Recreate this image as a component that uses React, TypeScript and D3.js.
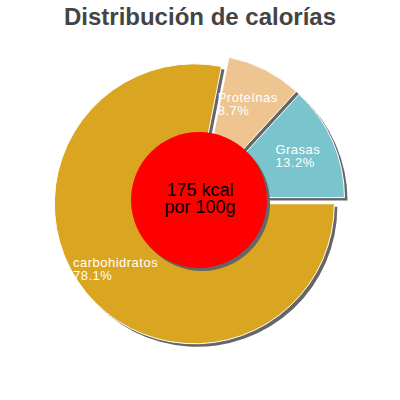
import React, { useEffect, useRef } from 'react';
import * as d3 from 'd3';

const categories = ['carbohidratos', 'Proteínas', 'Grasas'];
const percents = [78.1, 8.7, 13.2];
const sliceColors = ['#DAA520', '#EEC591', '#7AC5CD'];
const centerLines = ['175 kcal', 'por 100g'];
const title = 'Distribución de calorías';

const FONT = '"Liberation Sans", Arial, Helvetica, sans-serif';

export default function App() {
  const svgRef = useRef<SVGSVGElement>(null);

  useEffect(() => {
    if (!svgRef.current) return;
    const W = 400;
    const svg = d3.select(svgRef.current);
    svg.selectAll('*').remove();

    const cx = 199, cy = 200;
    const R = 140;
    const offset = 6;
    const labelR = 102;
    const innerCircleR = 68;

    // title
    svg.append('text')
      .attr('x', W / 2)
      .attr('y', 25)
      .attr('text-anchor', 'middle')
      .attr('font-family', FONT)
      .attr('font-weight', 'bold')
      .attr('font-size', '24px')
      .attr('fill', '#444444')
      .text(title);

    const pie = d3.pie<number>()
      .sort(null)
      .value(d => d)
      .startAngle(Math.PI / 2)
      .endAngle(Math.PI / 2 + 2 * Math.PI);
    const arcs = pie(percents);
    const arc = d3.arc<d3.PieArcDatum<number>>().innerRadius(0).outerRadius(R);

    // sliced-out position of each slice along its bisector
    const shift = (a: d3.PieArcDatum<number>, dist: number) => {
      const mid = (a.startAngle + a.endAngle) / 2;
      return [cx + Math.sin(mid) * dist, cy - Math.cos(mid) * dist];
    };

    const g = svg.append('g');

    // shadows first
    arcs.forEach(a => {
      const [x, y] = shift(a, offset);
      g.append('path')
        .attr('d', arc(a)!)
        .attr('transform', `translate(${x + 3},${y + 3})`)
        .attr('fill', '#666666');
    });

    arcs.forEach((a, i) => {
      const [x, y] = shift(a, offset);
      g.append('path')
        .attr('d', arc(a)!)
        .attr('transform', `translate(${x},${y})`)
        .attr('fill', sliceColors[i])
        .attr('stroke', '#ffffff')
        .attr('stroke-width', 1)
        .attr('stroke-linejoin', 'round');
    });

    // labels: left aligned block centred on a point inside the slice
    arcs.forEach((a, i) => {
      const [ox, oy] = shift(a, offset);
      const mid = (a.startAngle + a.endAngle) / 2;
      const px = ox + Math.sin(mid) * labelR;
      const py = oy - Math.cos(mid) * labelR;
      const lg = g.append('g');
      const t = lg.append('text')
        .attr('font-family', FONT)
        .attr('font-size', '13px')
        .attr('letter-spacing', '0.5px')
        .attr('fill', '#ffffff');
      t.append('tspan').attr('x', 0).attr('y', 0).text(categories[i]);
      t.append('tspan').attr('x', 0).attr('y', 13).text(`${percents[i]}%`);
      const bb = (t.node() as SVGTextElement).getBBox();
      lg.attr('transform', `translate(${px - bb.width / 2},${py - bb.height / 2 - bb.y})`);
    });

    // centre circle
    g.append('circle')
      .attr('cx', cx + 3).attr('cy', cy + 3).attr('r', innerCircleR)
      .attr('fill', '#666666');
    g.append('circle')
      .attr('cx', cx).attr('cy', cy).attr('r', innerCircleR)
      .attr('fill', '#FF0000');

    centerLines.forEach((line, i) => {
      g.append('text')
        .attr('x', cx + 1)
        .attr('y', 196 + i * 17)
        .attr('text-anchor', 'middle')
        .attr('font-family', FONT)
        .attr('font-size', '18px')
        .attr('fill', '#000000')
        .text(line);
    });
  }, []);

  return (
    <svg
      ref={svgRef}
      width={400}
      height={400}
      style={{ position: 'absolute', left: 0, top: 0, background: '#ffffff' }}
    />
  );
}
